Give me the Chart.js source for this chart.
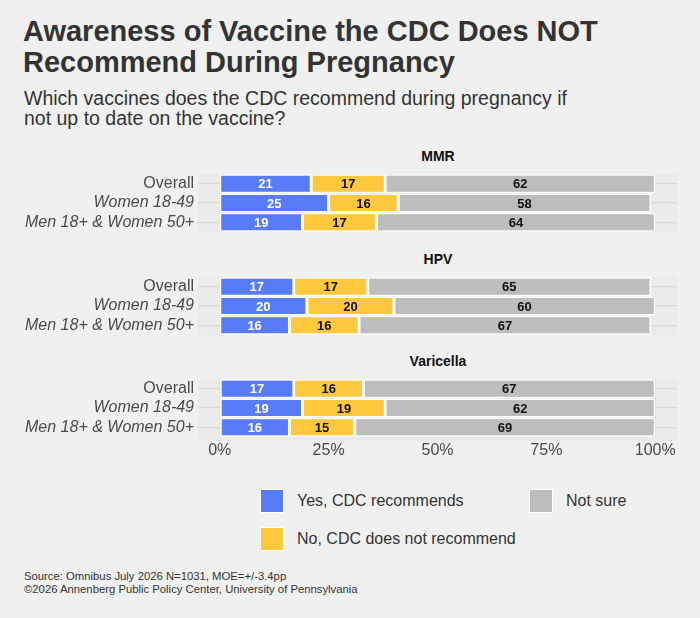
<!DOCTYPE html>
<html>
<head>
<meta charset="utf-8">
<script src="https://cdn.jsdelivr.net/npm/chart.js@4.4.1/dist/chart.umd.min.js"></script>
<style>
  html, body { margin:0; padding:0; background:#f0f0f0; }
  body { width:700px; height:618px; position:relative; overflow:hidden; font-family:"Liberation Sans", Arial, sans-serif; color:#333; }
  .title { position:absolute; left:23px; top:16px; font-size:29px; font-weight:bold; line-height:31px; color:#333; width:670px; white-space:nowrap; }
  .subtitle { position:absolute; left:24px; top:88px; font-size:19.5px; line-height:20px; color:#333; width:600px; white-space:nowrap; }
  .facet { position:absolute; left:338px; width:200px; text-align:center; font-size:14px; font-weight:bold; color:#111; }
  canvas.c { position:absolute; left:0; }
  .leg { position:absolute; font-size:16px; color:#333; white-space:nowrap; }
  .sw { position:absolute; width:22px; height:22px; border:1px solid #fff; }
  .src { position:absolute; left:24px; top:570px; font-size:11.3px; line-height:13px; color:#333; white-space:nowrap; }
</style>
</head>
<body>
<div class="title">Awareness of Vaccine the CDC Does NOT<br>Recommend During Pregnancy</div>
<div class="subtitle">Which vaccines does the CDC recommend during pregnancy if<br>not up to date on the vaccine?</div>

<div class="facet" id="f0" style="top:148px"></div>
<div class="facet" id="f1" style="top:251px"></div>
<div class="facet" id="f2" style="top:353px"></div>

<canvas class="c" id="c0" style="top:174px" width="700" height="58"></canvas>
<canvas class="c" id="c1" style="top:277px" width="700" height="58"></canvas>
<canvas class="c" id="c2" style="top:379px" width="700" height="86"></canvas>

<div id="legend"></div>
<div class="src">Source: Omnibus July 2026 N=1031, MOE=+/-3.4pp<br>©2026 Annenberg Public Policy Center, University of Pennsylvania</div>

<script>
// ---- data ----
const categories = ['Overall', 'Women 18-49', 'Men 18+ & Women 50+'];
const vaccines = ['MMR', 'HPV', 'Varicella'];
const seriesNames = ['Yes, CDC recommends', 'No, CDC does not recommend', 'Not sure'];
const seriesColors = ['#587BFA', '#FFC83D', '#BDBDBD'];
const labelColors = ['#ffffff', '#111111', '#111111'];
const xTicks = [0, 25, 50, 75, 100];

const mmrYes = [21, 25, 19];
const mmrNo = [17, 16, 17];
const mmrNotSure = [62, 58, 64];

const hpvYes = [17, 20, 16];
const hpvNo = [17, 20, 16];
const hpvNotSure = [65, 60, 67];

const varYes = [17, 19, 16];
const varNo = [16, 19, 15];
const varNotSure = [67, 62, 69];

const facetData = [
  [mmrYes, mmrNo, mmrNotSure],
  [hpvYes, hpvNo, hpvNotSure],
  [varYes, varNo, varNotSure]
];

const FONT = '"Liberation Sans", Arial, sans-serif';

// panel background
const panelBg = {
  id: 'panelBg',
  beforeDraw(chart) {
    const a = chart.chartArea, ctx = chart.ctx;
    ctx.save();
    ctx.fillStyle = '#ebebeb';
    ctx.fillRect(a.left, Math.max(a.top - 2, 0), a.right - a.left, a.bottom - a.top + 4);
    ctx.restore();
  }
};

// value labels centred in each segment
const valueLabels = {
  id: 'valueLabels',
  afterDatasetsDraw(chart) {
    const ctx = chart.ctx;
    ctx.save();
    ctx.font = 'bold 13px ' + FONT;
    ctx.textAlign = 'center';
    ctx.textBaseline = 'middle';
    chart.data.datasets.forEach((ds, di) => {
      const meta = chart.getDatasetMeta(di);
      meta.data.forEach((bar, i) => {
        const v = ds.data[i];
        ctx.fillStyle = labelColors[di];
        ctx.fillText(String(v), (bar.x + bar.base) / 2, bar.y + 1);
      });
    });
    ctx.restore();
  }
};

vaccines.forEach((name, fi) => {
  document.getElementById('f' + fi).textContent = name;
  const showX = fi === vaccines.length - 1;
  new Chart(document.getElementById('c' + fi), {
    type: 'bar',
    data: {
      labels: categories,
      datasets: seriesNames.map((s, si) => ({
        label: s,
        data: facetData[fi][si],
        backgroundColor: seriesColors[si],
        borderColor: '#ffffff',
        borderWidth: 1.5,
        borderSkipped: false,
        barPercentage: 0.98,
        categoryPercentage: 1
      }))
    },
    options: {
      indexAxis: 'y',
      responsive: false,
      animation: false,
      devicePixelRatio: 1,
      layout: { padding: { left: 0, right: 23, top: 0, bottom: 0 } },
      plugins: { legend: { display: false }, tooltip: { enabled: false } },
      scales: {
        x: {
          stacked: true,
          min: -5, max: 105,
          display: showX,
          afterBuildTicks(scale) { scale.ticks = xTicks.map(v => ({ value: v })); },
          afterFit(scale) {
            if (showX) scale.height = 28;
            scale.paddingLeft = 0; scale.paddingRight = 0;
          },
          grid: { color: '#e3e3e3', lineWidth: 1, drawTicks: false },
          border: { display: false },
          ticks: {
            padding: 4,
            color: '#4a4a4a',
            maxRotation: 0,
            font: { family: FONT, size: 16 },
            callback: v => v + '%'
          }
        },
        y: {
          stacked: true,
          offset: true,
          afterFit(scale) {
            scale.width = 198;
            scale.paddingTop = 0; scale.paddingBottom = 0;
          },
          grid: { offset: false, color: '#d8d8d8', lineWidth: 1.3, drawTicks: false },
          border: { display: false },
          ticks: {
            padding: 4,
            autoSkip: false,
            color: '#4a4a4a',
            font: (ctx) => ({ family: FONT, size: 16, style: ctx.index === 0 ? 'normal' : 'italic' })
          }
        }
      }
    },
    plugins: [panelBg, valueLabels]
  });
});

// legend (column-major, 2 rows)
const legendPos = [
  { sx: 260, sy: 489 },
  { sx: 260, sy: 527 },
  { sx: 529, sy: 489 }
];
const legend = document.getElementById('legend');
seriesNames.forEach((s, i) => {
  const p = legendPos[i];
  const sw = document.createElement('div');
  sw.className = 'sw';
  sw.style.left = p.sx + 'px';
  sw.style.top = p.sy + 'px';
  sw.style.background = seriesColors[i];
  legend.appendChild(sw);
  const t = document.createElement('div');
  t.className = 'leg';
  t.style.left = (p.sx + 37) + 'px';
  t.style.top = (p.sy + 3) + 'px';
  t.textContent = s;
  legend.appendChild(t);
});
</script>
</body>
</html>
